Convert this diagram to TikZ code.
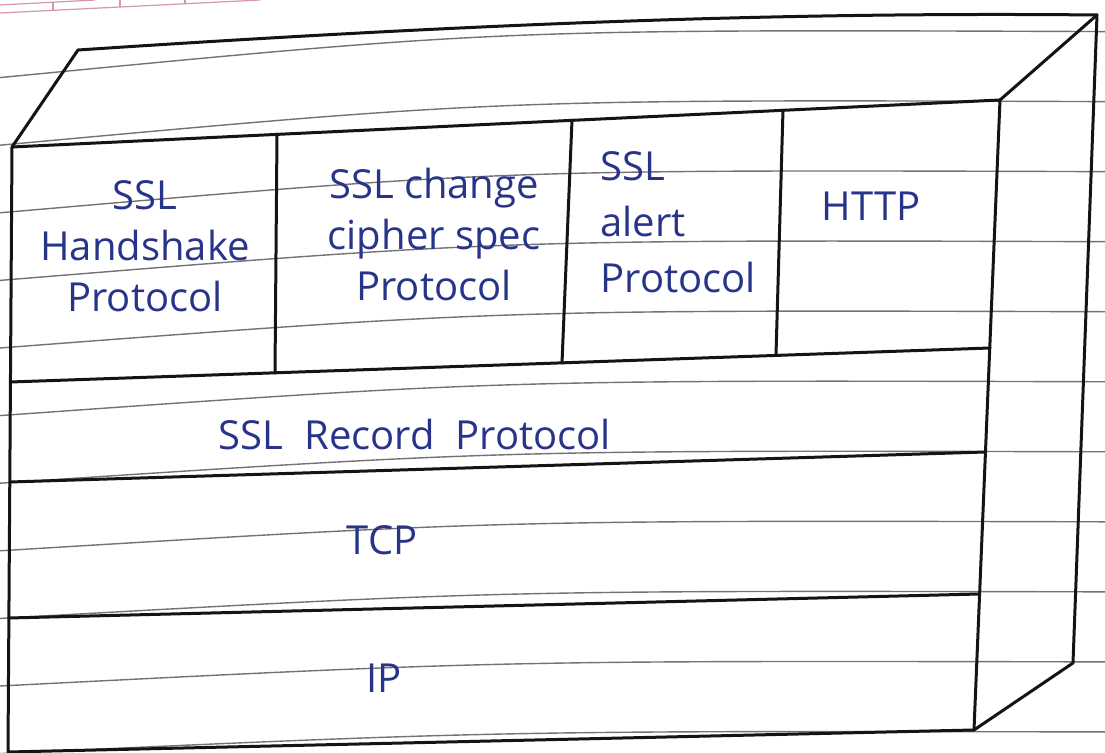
\documentclass[tikz,border=0pt]{standalone}
\usepackage{fontspec}
\setmainfont{Open Sans}
\definecolor{inkblue}{RGB}{40,52,138}
\definecolor{rulegray}{RGB}{115,115,115}
\definecolor{headpink}{RGB}{214,150,170}
\begin{document}
\begin{tikzpicture}[x=0.5pt,y=-0.5pt,
  edge/.style={line width=1.5pt, line join=round, line cap=round, draw=black!92},
  rule/.style={line width=0.7pt, draw=rulegray},
  pinkrule/.style={line width=0.6pt, draw=headpink},
  lbl/.style={text=inkblue, font=\fontsize{20}{25.5}\selectfont, inner sep=0pt, align=center}]
\useasboundingbox (0,0) rectangle (1105,753);
\fill[white] (0,0) rectangle (1105,753);

% ruled lines of the notebook page
\foreach \k in {1,...,11} {
  \pgfmathsetmacro{\ya}{10+67.6*\k}
  \pgfmathsetmacro{\dr}{46-0.036*(\ya-78)}
  \draw[rule] (0,\ya) .. controls (500,\ya-1.05*\dr) .. (1105,\ya-\dr);
}
% page header strip
\draw[pinkrule] (0,13) -- (260,0);
\draw[pinkrule] (0,5) -- (95,0);
\foreach \hx/\ha/\hb in {53/2.2/10.3, 120/0/7, 185/0/3.7}
  \draw[pinkrule] (\hx,\ha) -- (\hx,\hb);

% corners of the block
\coordinate (ftl) at (12,147);
\coordinate (ftr) at (1000,100);
\coordinate (fbl) at (8,752);
\coordinate (fbr) at (974,730);
\coordinate (btl) at (78,50);
\coordinate (btr) at (1097,15);
\coordinate (bbr) at (1073,663);

% layer boundaries on the front face
\coordinate (l1) at (10.4,382);  \coordinate (r1) at (990,348);
\coordinate (l2) at (9.8,482);   \coordinate (r2) at (985.5,452);
\coordinate (l3) at (8.9,618);   \coordinate (r3) at (979.6,594);

% column dividers of the top layer
\coordinate (d1t) at (277,134);  \coordinate (d1b) at (275,373);
\coordinate (d2t) at (572,120);  \coordinate (d2b) at (562,363);
\coordinate (d3t) at (783,110);  \coordinate (d3b) at (776,355);

% block outline
\draw[edge] (fbl) -- (ftl) -- (ftr) -- (fbr) -- cycle;
\draw[edge] (ftl) -- (btl) .. controls (500,22) and (800,12) .. (btr) -- (bbr) -- (fbr);
\draw[edge] (ftr) -- (btr);

% layers
\draw[edge] (l1) -- (r1);
\draw[edge] (l2) -- (r2);
\draw[edge] (l3) -- (r3);
\draw[edge] (d1t) -- (d1b);
\draw[edge] (d2t) -- (d2b);
\draw[edge] (d3t) -- (d3b);

% labels
\node[lbl] (hs) at (145,246) {SSL\\Handshake\\Protocol};
\node[lbl] (ccs) at (434,235) {SSL change\\cipher spec\\Protocol};
\node[lbl, align=left, anchor=west, font=\fontsize{20}{28}\selectfont] (al) at (600,222) {SSL\\alert\\Protocol};
\node[lbl] (http) at (871,206) {HTTP};
\node[lbl] (rec) at (415,435) {SSL\ \ Record\ \ Protocol};
\node[lbl] (tcp) at (382,540) {TCP};
\node[lbl] (ip) at (384,678) {IP};
\end{tikzpicture}
\end{document}
